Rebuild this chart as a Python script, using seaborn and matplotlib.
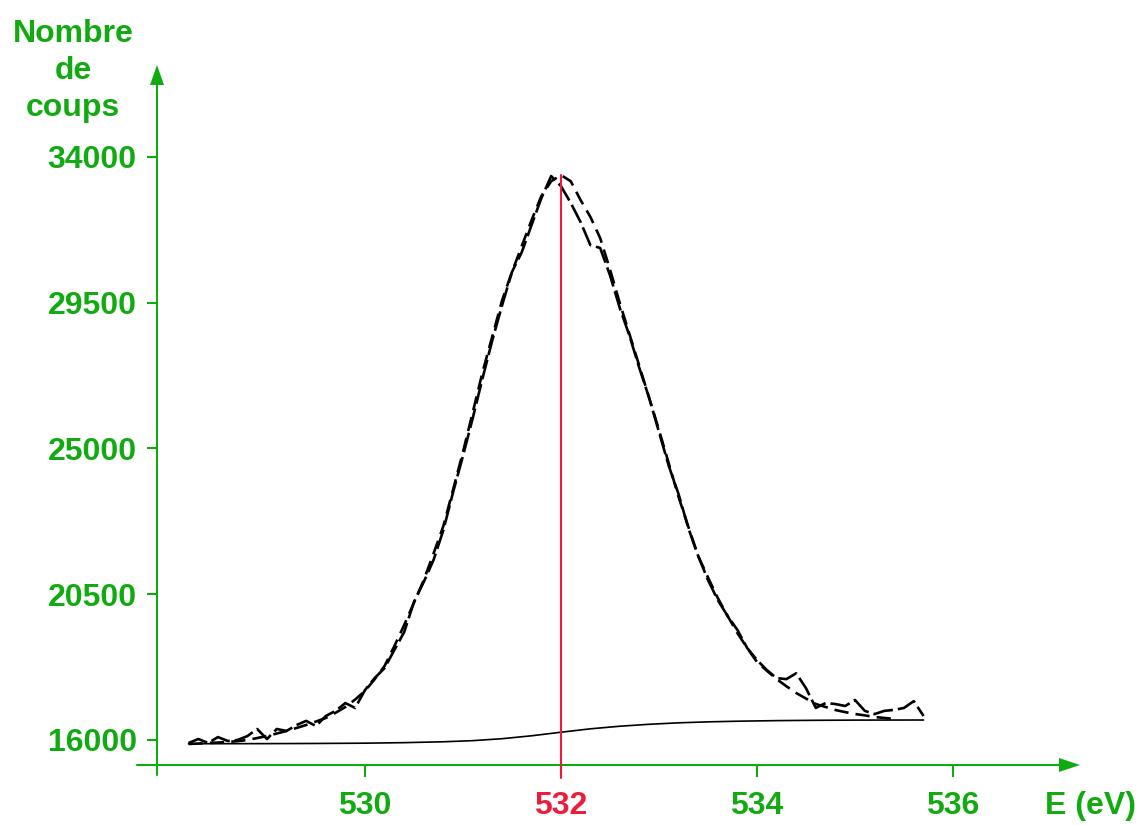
import matplotlib
matplotlib.use("Agg")
import matplotlib.pyplot as plt
import seaborn as sns
import pandas as pd

# ---------------- data ----------------
# experimental spectrum (binding energy in eV, counts)
exp_E = [528.2, 528.3, 528.4, 528.5, 528.6, 528.7, 528.8, 528.9, 529.0, 529.1,
         529.2, 529.3, 529.4, 529.5, 529.6, 529.7, 529.8, 529.9, 530.0, 530.1,
         530.2, 530.3, 530.4, 530.5, 530.6, 530.7, 530.8, 530.9, 531.0, 531.1,
         531.2, 531.3, 531.4, 531.5, 531.6, 531.7, 531.8, 531.9, 532.0, 532.1,
         532.2, 532.3, 532.4, 532.5, 532.6, 532.7, 532.8, 532.9, 533.0, 533.1,
         533.2, 533.3, 533.4, 533.5, 533.6, 533.7, 533.8, 533.9, 534.0, 534.1,
         534.2, 534.3, 534.4, 534.5, 534.6, 534.7, 534.8, 534.9, 535.0, 535.1,
         535.2, 535.3, 535.4, 535.5, 535.6, 535.7]
exp_counts = [15907, 16030, 15907, 16090, 15970, 16000, 16120, 16340, 16030, 16340,
              16280, 16460, 16590, 16430, 16740, 16900, 17140, 16990, 17540, 17915,
              18220, 18780, 19330, 20260, 20880, 21560, 22480, 23660, 24770, 25940,
              27170, 28350, 29430, 30450, 31060, 31900, 32730, 33410, 33100, 32580,
              31990, 31280, 31190, 30350, 29340, 28470, 27480, 26560, 25510, 24460,
              23590, 22540, 21680, 20940, 20320, 19830, 19400, 18840, 18470, 18160,
              17910, 17880, 18060, 17600, 16990, 17140, 17110, 17050, 17235, 16900,
              16800, 16900, 16930, 16990, 17200, 16740]

# fitted envelope
fit_E = [528.2, 528.3, 528.4, 528.5, 528.6, 528.7, 528.8, 528.9, 529.0, 529.1,
         529.2, 529.3, 529.4, 529.5, 529.6, 529.7, 529.8, 529.9, 530.0, 530.1,
         530.2, 530.3, 530.4, 530.5, 530.6, 530.7, 530.8, 530.9, 531.0, 531.1,
         531.2, 531.3, 531.4, 531.5, 531.6, 531.7, 531.8, 531.9, 532.0, 532.1,
         532.2, 532.3, 532.4, 532.5, 532.6, 532.7, 532.8, 532.9, 533.0, 533.1,
         533.2, 533.3, 533.4, 533.5, 533.6, 533.7, 533.8, 533.9, 534.0, 534.1,
         534.2, 534.3, 534.4, 534.5, 534.6, 534.7, 534.8, 534.9, 535.0, 535.1,
         535.2, 535.3, 535.4]
fit_counts = [15877, 15890, 15907, 15920, 15938, 15965, 16000, 16060, 16123, 16200,
              16278, 16370, 16463, 16570, 16679, 16840, 17019, 17250, 17513, 17880,
              18284, 18900, 19550, 20240, 20939, 21760, 22606, 23740, 24891, 26120,
              27360, 28470, 29583, 30450, 31250, 32050, 32794, 33250, 33442, 33250,
              32670, 32150, 31497, 30530, 29490, 28520, 27545, 26560, 25570, 24540,
              23502, 22580, 21680, 21020, 20384, 19830, 19303, 18840, 18408, 18140,
              17883, 17660, 17451, 17280, 17111, 17020, 16926, 16860, 16803, 16760,
              16710, 16680, 16648]

# background (Shirley-type)
bg_E = [528.2, 529.0, 529.5, 530.0, 530.4, 530.8, 531.1, 531.4, 531.7, 532.0,
        532.3, 532.6, 532.9, 533.2, 533.5, 533.8, 534.2, 534.6, 535.0, 535.7]
bg_counts = [15885, 15888, 15893, 15902, 15918, 15945, 15980, 16040, 16130, 16240,
             16345, 16425, 16485, 16530, 16560, 16580, 16598, 16608, 16614, 16617]

peak_E = 532.0
x_ticks = [530, 532, 534, 536]
x_tick_labels = ["530", "532", "534", "536"]
y_ticks = [16000, 20500, 25000, 29500, 34000]
y_tick_labels = ["16000", "20500", "25000", "29500", "34000"]
y_title = "Nombre\nde\ncoups"
x_title = "E (eV)"

# ---------------- style ----------------
GREEN = "#11AA11"
RED = "#EE1C3C"
sns.set_style("white")
plt.rcParams["font.family"] = ["Liberation Sans", "DejaVu Sans"]
plt.rcParams["font.weight"] = "bold"

W, H = 1142, 825
fig = plt.figure(figsize=(W / 100, H / 100), dpi=100)
ax_l, ax_r, ax_t, ax_b = 157, 1080, 65, 765
ax = fig.add_axes([ax_l / W, (H - ax_b) / H, (ax_r - ax_l) / W, (ax_b - ax_t) / H])
ax.set_xlim(527.878, 537.296)
ax.set_ylim(15228, 36840)

df_exp = pd.DataFrame({"E": exp_E, "N": exp_counts})
df_fit = pd.DataFrame({"E": fit_E, "N": fit_counts})
df_bg = pd.DataFrame({"E": bg_E, "N": bg_counts})

sns.lineplot(data=df_bg, x="E", y="N", ax=ax, color="black", linewidth=1.2,
             estimator=None, sort=False)
sns.lineplot(data=df_fit, x="E", y="N", ax=ax, color="black", linewidth=1.9,
             estimator=None, sort=False)
ax.lines[-1].set_dashes((5.4, 2.7))
sns.lineplot(data=df_exp, x="E", y="N", ax=ax, color="black", linewidth=1.9,
             estimator=None, sort=False)
ax.lines[-1].set_dashes((7.6, 1.9))

# red marker line at peak position
ax.plot([peak_E, peak_E], [max(fit_counts), 14827], color=RED, lw=1.5,
        clip_on=False, zorder=5)

# axes (green, with arrows)
for s in ax.spines.values():
    s.set_visible(False)
aw, ah = ax_r - ax_l, ax_b - ax_t
lw_ax = 1.5
ax.plot([0, 0], [-10 / ah, 1 - 18 / ah], color=GREEN, lw=lw_ax,
        transform=ax.transAxes, clip_on=False)
ax.plot([-20 / aw, 1 - 19 / aw], [0, 0], color=GREEN, lw=lw_ax,
        transform=ax.transAxes, clip_on=False)
ax.fill([0, -7 / aw, 7 / aw], [1, 1 - 20 / ah, 1 - 20 / ah], color=GREEN,
        transform=ax.transAxes, clip_on=False, lw=0)
ax.fill([1, 1 - 21 / aw, 1 - 21 / aw], [0, 7 / ah, -7 / ah], color=GREEN,
        transform=ax.transAxes, clip_on=False, lw=0)

ax.set_xticks(x_ticks)
ax.set_xticklabels(x_tick_labels)
ax.set_yticks(y_ticks)
ax.set_yticklabels(y_tick_labels)
ax.tick_params(axis="x", direction="out", length=8.5, width=1.5, color=GREEN,
               labelcolor=GREEN, labelsize=23, pad=10, bottom=True)
ax.tick_params(axis="y", direction="out", length=7.5, width=1.5, color=GREEN,
               labelcolor=GREEN, labelsize=23, pad=7, left=True)
for lab in ax.get_xticklabels():
    lab.set_fontweight("bold")
    if lab.get_text() == "532":
        lab.set_color(RED)
for lab in ax.get_yticklabels():
    lab.set_fontweight("bold")
ax.set_xlabel("")
ax.set_ylabel("")
ax.grid(False)

fig.text(73 / W, 1 - 71 / H, y_title, ha="center", va="center", color=GREEN,
         fontsize=23, fontweight="bold", linespacing=1.32)
fig.text(1045 / W, 1 - 806 / H, x_title, ha="left", va="center", color=GREEN,
         fontsize=23, fontweight="bold")

fig.savefig("out.png", dpi=100, facecolor="white")
